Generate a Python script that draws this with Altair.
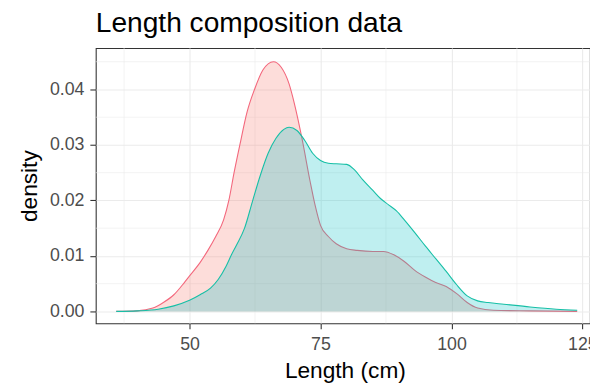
import altair as alt
import pandas as pd

# ---- data ----
r_len = [36, 40, 43, 45, 47, 49, 50, 52, 53.5, 55, 56.5, 57.5, 58.5, 59.6, 61, 62.4, 64, 66, 67.5, 69, 70,
         71.5, 73, 74, 75, 76.5, 78, 80, 82, 85, 87, 89, 91, 93, 95, 97, 99, 101, 103, 105, 108, 115, 124]
r_den = [0.0, 0.0001, 0.0006, 0.0016, 0.003, 0.0052, 0.0064, 0.0088, 0.011, 0.0135, 0.0165, 0.020, 0.025,
         0.030, 0.036, 0.040, 0.0435, 0.0450, 0.0440, 0.0410, 0.0375, 0.031, 0.0235, 0.019, 0.0155, 0.0135,
         0.0122, 0.0113, 0.011, 0.0108, 0.0108, 0.0102, 0.009, 0.0074, 0.0062, 0.0052, 0.0045, 0.0032, 0.0016,
         0.0006, 0.0002, 0.0001, 0.0]

t_len = [36, 40, 44, 47, 50, 52, 54, 55.5, 57, 58, 59, 60.5, 62, 63.5, 65, 66.5, 68, 69, 70.5, 72, 73.5, 75,
         76.5, 78, 80, 81.5, 83, 85, 86.5, 88, 89.5, 91, 93, 95, 97, 99, 101, 103, 105, 107, 110, 115, 120, 124]
t_den = [0.0, 0.0001, 0.0004, 0.001, 0.002, 0.003, 0.0042, 0.0058, 0.0082, 0.0102, 0.012, 0.015, 0.0198,
         0.0245, 0.0285, 0.0312, 0.0328, 0.0332, 0.0326, 0.0308, 0.0285, 0.0272, 0.0267, 0.0266, 0.0265,
         0.0255, 0.0238, 0.0218, 0.0203, 0.0192, 0.0181, 0.0165, 0.0142, 0.0118, 0.0095, 0.0072, 0.0048,
         0.0028, 0.0019, 0.0016, 0.0013, 0.0008, 0.0004, 0.0002]

x_ticks = [50, 75, 100, 125]
y_ticks = [0.0, 0.01, 0.02, 0.03, 0.04]
x_minor = [37.5, 62.5, 87.5, 112.5]
y_minor = [0.005, 0.015, 0.025, 0.035, 0.045]

df = pd.concat([
    pd.DataFrame({"len": r_len, "dens": r_den, "grp": "A"}),
    pd.DataFrame({"len": t_len, "dens": t_den, "grp": "B"}),
], ignore_index=True)

FONT = "Liberation Sans"

xscale = alt.Scale(domain=[32.1, 126.45], nice=False, zero=False)
yscale = alt.Scale(domain=[-0.00214, 0.04746], nice=False, zero=False)

xaxis = alt.Axis(values=x_ticks, title="Length (cm)", grid=True, gridColor="#EBEBEB", gridWidth=1.1,
                 domain=False, ticks=True, tickColor="#333333", tickSize=5.5, tickWidth=1.1,
                 labelColor="#4D4D4D", labelFontSize=18, labelFont=FONT, labelPadding=7,
                 labelFlush=False, labelOverlap=False,
                 titleFont=FONT, titleFontSize=23, titleFontWeight="normal", titleColor="black",
                 titleX=252.5, titleY=55, titleBaseline="alphabetic", titleAlign="center")
yaxis = alt.Axis(values=y_ticks, format=".2f", title="density", grid=True, gridColor="#EBEBEB", gridWidth=1.1,
                 domain=False, ticks=True, tickColor="#333333", tickSize=6, tickWidth=1.1,
                 labelColor="#4D4D4D", labelFontSize=18, labelFont=FONT, labelPadding=6,
                 labelFlush=False, labelOverlap=False,
                 titleFont=FONT, titleFontSize=23, titleFontWeight="normal", titleColor="black",
                 titleX=-67, titleY=139.5, titleAngle=270, titleBaseline="middle", titleAlign="center")

X = alt.X("len:Q", scale=xscale, axis=xaxis)
Y = alt.Y("dens:Q", scale=yscale, axis=yaxis)

minor_x = alt.Chart(pd.DataFrame({"len": x_minor})).mark_rule(color="#EBEBEB", strokeWidth=0.6).encode(x=X)
minor_y = alt.Chart(pd.DataFrame({"dens": y_minor})).mark_rule(color="#EBEBEB", strokeWidth=0.6).encode(y=Y)

base = alt.Chart(df).encode(x=X, y=Y)

def area(g, fill):
    return base.transform_filter(alt.datum.grp == g).mark_area(
        color=fill, fillOpacity=0.25, interpolate="monotone").encode(y2=alt.datum(0))

def line(g, stroke):
    return base.transform_filter(alt.datum.grp == g).mark_line(
        color=stroke, strokeWidth=1.1, interpolate="monotone")

chart = alt.layer(
    minor_x, minor_y,
    area("A", "#F8766D"), line("A", "#F3677C"),
    area("B", "#00BFC4"), line("B", "#16BFA6"),
).properties(
    width=501, height=279,
    background="white",
    autosize=alt.AutoSizeParams(type="none"),
    padding={"left": 89, "top": 38, "right": 0, "bottom": 63},
    title=alt.TitleParams("Length composition data", anchor="start", frame="group", fontSize=28.5,
                          font=FONT, fontWeight="normal", color="black", offset=10),
).configure_view(stroke="#333333", strokeWidth=1.1)

chart.save("out.html", embed_options={"renderer": "svg", "actions": False})
